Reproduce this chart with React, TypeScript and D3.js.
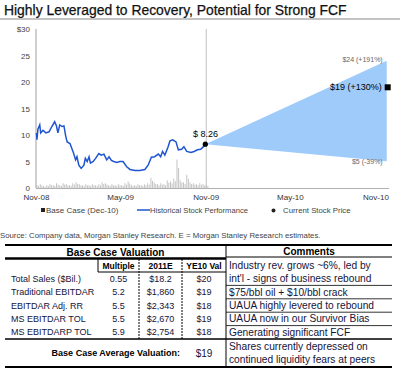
import React from "react";
import * as d3 from "d3";

const title = "Highly Leveraged to Recovery, Potential for Strong FCF";

// historical UAUA price (Nov-08 .. Nov-09)
const priceDates = [
  "2008-11-01", "2008-11-02", "2008-11-04", "2008-11-08", "2008-11-10", "2008-11-15", "2008-11-21",
  "2008-11-28", "2008-12-04", "2008-12-10", "2008-12-14", "2008-12-17", "2008-12-21", "2008-12-26",
  "2008-12-30", "2009-01-03", "2009-01-06", "2009-01-12", "2009-01-17", "2009-01-20", "2009-01-24",
  "2009-01-27", "2009-01-31", "2009-02-05", "2009-02-11", "2009-02-14", "2009-02-18", "2009-02-22",
  "2009-02-25", "2009-03-03", "2009-03-08", "2009-03-15", "2009-03-20", "2009-03-26", "2009-04-01",
  "2009-04-06", "2009-04-11", "2009-04-16", "2009-04-23", "2009-04-29", "2009-05-06", "2009-05-14",
  "2009-05-21", "2009-06-01", "2009-06-11", "2009-06-22", "2009-06-29", "2009-07-06", "2009-07-13",
  "2009-07-21", "2009-07-26", "2009-07-30", "2009-08-04", "2009-08-11", "2009-08-15", "2009-08-21",
  "2009-08-28", "2009-09-02", "2009-09-09", "2009-09-14", "2009-09-20", "2009-09-29", "2009-10-06",
  "2009-10-13", "2009-10-20", "2009-10-26", "2009-10-30",
];
const priceValues = [
  10.4, 9.1, 11.1, 11.9, 10.4, 10.9, 10.4,
  10.6, 11.6, 12.5, 11.7, 10.4, 11.9, 11.6,
  11.7, 9.7, 8.7, 8.4, 7.2, 6.5, 5.3,
  5.9, 4.3, 3.7, 4.3, 5.6, 5.0, 5.9,
  4.7, 5.0, 5.6, 6.5, 6.2, 6.4, 5.3,
  5.9, 5.2, 5.0, 4.8, 5.0, 5.0, 4.0,
  3.5, 3.3, 3.3, 3.5, 4.3, 5.8, 5.9,
  6.4, 5.9, 6.9, 6.2, 7.8, 8.9, 9.1,
  8.7, 7.2, 7.3, 7.8, 6.9, 6.7, 6.9,
  7.2, 7.3, 7.8, 8.26,
];

// weekly volume (M shares), from the week of Nov 1 2008
const volumeStart = "2008-11-01";
const volumeValues = [
  4.5, 6, 3, 4.5, 6, 4.5, 7.5, 4.5, 7.5, 6, 4.5, 7.5, 9, 6, 4.5, 6, 4.5, 6,
  4.5, 6, 9, 7.5, 4.5, 6, 4.5, 6, 4.5, 7.5, 10, 4.5, 4.5, 6, 4.5, 6, 7.5,
  16, 9, 6, 7.5, 6, 12, 10.5, 15, 45, 12, 9, 21, 9, 7.5, 6, 7.5, 6, 4.5,
];

const currentDate = "2009-10-30";
const currentPrice = 8.26;
const targetDate = "2010-11-24";
const bullCase = 24;
const baseCase = 19;
const bearCase = 5.04;

const yTicks = [0, 5, 10, 15, 20, 25, 30];
const xTickDates = ["2008-11-01", "2009-05-01", "2009-11-01", "2010-05-01", "2010-11-01"];
const xTickLabels = ["Nov-08", "May-09", "Nov-09", "May-10", "Nov-10"];

const source = "Source: Company data, Morgan Stanley Research. E = Morgan Stanley Research estimates.";

// valuation table
const tableHeaders = ["Multiple", "2011E", "YE10 Val"];
const rowLabels = ["Total Sales ($Bil.)", "Traditional EBITDAR", "EBITDAR Adj. RR", "MS EBITDAR TOL", "MS EBITDARP TOL"];
const multiples = ["0.55", "5.2", "5.5", "5.5", "5.9"];
const est2011 = ["$18.2", "$1,860", "$2,343", "$2,670", "$2,754"];
const ye10Vals = ["$20", "$19", "$18", "$19", "$18"];
const comments = [
  "$75/bbl oil + $10/bbl crack",
  "UAUA highly levered to rebound",
  "UAUA now in our Survivor Bias",
  "Generating significant FCF",
];
const firstComment = ["Industry rev. grows ~6%, led by", "int'l - signs of business rebound"];
const avgLabel = "Base Case Average Valuation:";
const avgValue = "$19";
const avgComment = ["Shares currently depressed on", "continued liquidity fears at peers"];

const FONT = "'Liberation Sans', Arial, sans-serif";
const parse = d3.timeParse("%Y-%m-%d");

export default function App() {
  const x = d3
    .scaleTime()
    .domain([parse("2008-11-01")!, parse("2010-11-01")!])
    .range([36.5, 376]);
  const y = d3.scaleLinear().domain([0, 30]).range([188, 29]);
  const vol = d3.scaleLinear().domain([0, 60]).range([0, 38]);

  const pts = priceDates.map((d, i) => ({ date: parse(d)!, v: priceValues[i] }));
  const line = d3
    .line<{ date: Date; v: number }>()
    .x((d) => x(d.date))
    .y((d) => y(d.v))
    .curve(d3.curveLinear);

  const vStart = parse(volumeStart)!;
  const volBars = volumeValues.map((v, i) => ({ date: d3.timeWeek.offset(vStart, i), v }));
  const barW = x(d3.timeWeek.offset(vStart, 1)) - x(vStart);

  const cx = x(parse(currentDate)!);
  const cy = y(currentPrice);
  const tx = x(parse(targetDate)!);
  const wedge = `M${cx},${cy}L${tx},${y(bullCase)}L${tx},${y(bearCase)}Z`;

  // table geometry
  const tl = 5, tr = 392, split = 226;
  const colX = [98, 139, 182, split];
  const rowY = d3.scaleLinear().domain([0, 1]).range([272, 285.4]);
  const tableTop = 245, tableBottom = 367;
  const labelColor = "#14143a";

  return (
    <div style={{ position: "absolute", left: 0, top: 0 }}>
      <svg width={400} height={371} style={{ display: "block", fontFamily: FONT, background: "#fff" }}>
        <text x={4} y={15} fontSize={13.9} fill="#111" stroke="#111" strokeWidth={0.25}>{title}</text>
        <line x1={0} x2={400} y1={19} y2={19} stroke="#c4c4c4" strokeWidth={2} />

        {/* volume */}
        {volBars.map((b, i) => (
          <g key={i} fill="#c4c4c4">
            <rect x={x(b.date)} y={188 - vol(b.v)} width={1} height={vol(b.v)} />
            <rect x={x(b.date) + 1.6} y={188 - vol(b.v) * 0.7} width={1} height={vol(b.v) * 0.7} />
          </g>
        ))}

        {/* axes */}
        <line x1={36} x2={36} y1={29} y2={188} stroke="#a0a0a0" />
        <line x1={x(parse("2009-11-01")!)} x2={x(parse("2009-11-01")!)} y1={29} y2={188} stroke="#c0c0c0" />
        <line x1={36} x2={389} y1={188.5} y2={188.5} stroke="#b0b0b0" />
        {yTicks.map((t) => (
          <text key={t} x={30} y={y(t) + 3} fontSize={8} fill="#444" textAnchor="end">
            {t === 30 ? "$30" : t}
          </text>
        ))}
        {xTickDates.map((d, i) => (
          <text key={d} x={x(parse(d)!)} y={200} fontSize={8} fill="#333" textAnchor="middle">
            {xTickLabels[i]}
          </text>
        ))}

        {/* projection wedge */}
        <path d={wedge} fill="#9fcbfb" />
        <text x={tx - 4} y={y(bullCase) + 1} fontSize={7} fill="#666" textAnchor="end">$24 (+191%)</text>
        <text x={tx - 4} y={y(bearCase) + 3} fontSize={7} fill="#666" textAnchor="end">$5 (-39%)</text>
        <text x={tx - 5} y={y(baseCase) + 3} fontSize={9} fill="#000" textAnchor="end">$19 (+130%)</text>
        <rect x={tx - 2} y={y(baseCase) - 3} width={6} height={6} fill="#000" />

        {/* price line */}
        <path d={line(pts) ?? ""} fill="none" stroke="#1f55d0" strokeWidth={1.5} />
        <circle cx={cx} cy={cy} r={2.6} fill="#000" />
        <text x={193} y={137} fontSize={9} fill="#000">$ 8.26</text>

        {/* legend */}
        <rect x={41} y={208} width={4} height={4} fill="#222" />
        <text x={46} y={213} fontSize={8} fill="#444">Base Case  (Dec-10)</text>
        <line x1={137} x2={150} y1={210} y2={210} stroke="#1f55d0" strokeWidth={1.5} />
        <text x={150} y={213} fontSize={7.6} fill="#444">Historical Stock Performance</text>
        <circle cx={273.5} cy={210.5} r={2} fill="#222" />
        <text x={283} y={213} fontSize={7.8} fill="#444">Current Stock Price</text>

        <text x={0} y={238} fontSize={7.8} fill="#444">{source}</text>

        {/* table */}
        <defs>
          <clipPath id="c0"><rect x={tl} y={tableTop} width={colX[0] - tl - 1} height={120} /></clipPath>
          <clipPath id="c3"><rect x={colX[2]} y={tableTop} width={split - colX[2]} height={40} /></clipPath>
        </defs>
        <line x1={tl} x2={tr} y1={tableTop} y2={tableTop} stroke="#000" strokeWidth={2.2} />
        <line x1={tl} x2={split} y1={258.5} y2={258.5} stroke="#000" strokeWidth={2.5} />
        <line x1={split} x2={tr} y1={257} y2={257} stroke="#000" strokeWidth={1} />
        <line x1={colX[0]} x2={split} y1={272} y2={272} stroke="#000" strokeWidth={1} />
        <line x1={colX[0]} x2={colX[0]} y1={259} y2={272} stroke="#000" strokeWidth={1} />
        {[1, 2].map((c) => (
          <line key={c} x1={colX[c]} x2={colX[c]} y1={259} y2={rowY(5)} stroke="#000" strokeWidth={1} strokeDasharray="2,1" />
        ))}
        <line x1={split} x2={split} y1={tableTop} y2={tableBottom} stroke="#000" strokeWidth={1} />
        {[1, 2, 3, 4].map((r) => (
          <line key={r} x1={split} x2={tr} y1={rowY(r)} y2={rowY(r)} stroke="#000" strokeWidth={0.8} />
        ))}
        <line x1={tl} x2={tr} y1={rowY(5)} y2={rowY(5)} stroke="#000" strokeWidth={1.6} />
        <line x1={tl} x2={tr} y1={tableBottom} y2={tableBottom} stroke="#000" strokeWidth={2.2} />

        <text x={(tl + split) / 2} y={255.5} fontSize={10} fontWeight="bold" fill="#000" textAnchor="middle">Base Case Valuation</text>
        <text x={(split + tr) / 2} y={254.5} fontSize={10} fontWeight="bold" fill="#000" textAnchor="middle">Comments</text>
        {tableHeaders.map((h, i) => (
          <text key={h} x={(colX[i] + colX[i + 1]) / 2} y={268.5} fontSize={8.5} fontWeight="bold" fill="#000" textAnchor="middle"
            clipPath={i === 2 ? "url(#c3)" : undefined}>
            {h}
          </text>
        ))}
        {rowLabels.map((l, i) => (
          <g key={l} fontSize={9} fill={labelColor}>
            <text x={11} y={rowY(i + 0.5) + 3} clipPath="url(#c0)">{l}</text>
            <text x={(colX[0] + colX[1]) / 2} y={rowY(i + 0.5) + 3} textAnchor="middle">{multiples[i]}</text>
            <text x={(colX[1] + colX[2]) / 2} y={rowY(i + 0.5) + 3} textAnchor="middle">{est2011[i]}</text>
            <text x={(colX[2] + colX[3]) / 2} y={rowY(i + 0.5) + 3} textAnchor="middle">{ye10Vals[i]}</text>
          </g>
        ))}
        {firstComment.map((c, i) => (
          <text key={c} x={229} y={268.5 + i * 13.5} fontSize={10.2} fill={labelColor}>{c}</text>
        ))}
        {comments.map((c, i) => (
          <text key={c} x={229} y={rowY(i + 1.5) + 3.5} fontSize={10.2} fill={labelColor}>{c}</text>
        ))}
        <text x={180} y={356} fontSize={9} fontWeight="bold" fill="#000" textAnchor="end">{avgLabel}</text>
        <text x={(colX[2] + colX[3]) / 2} y={356.5} fontSize={10} fill={labelColor} textAnchor="middle">{avgValue}</text>
        {avgComment.map((c, i) => (
          <text key={c} x={229} y={349.5 + i * 13.5} fontSize={10.2} fill={labelColor}>{c}</text>
        ))}
      </svg>
    </div>
  );
}
